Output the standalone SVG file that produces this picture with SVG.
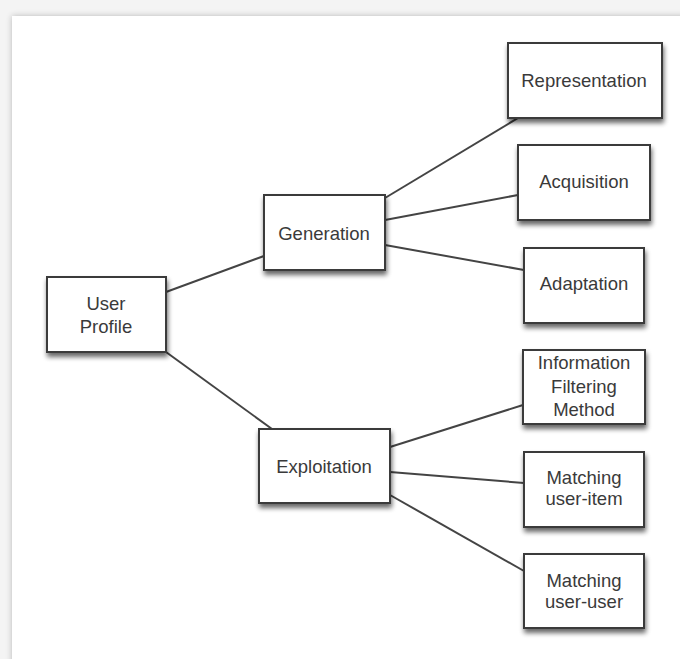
<svg xmlns="http://www.w3.org/2000/svg" width="680" height="659" viewBox="0 0 680 659">
<defs>
<filter id="sh" x="-20%" y="-20%" width="140%" height="150%">
<feGaussianBlur in="SourceAlpha" stdDeviation="2.5"/>
<feOffset dx="1" dy="4" result="b"/>
<feComponentTransfer><feFuncA type="linear" slope="0.6"/></feComponentTransfer>
<feMerge><feMergeNode/><feMergeNode in="SourceGraphic"/></feMerge>
</filter>
<filter id="pg" x="-5%" y="-5%" width="110%" height="110%">
<feGaussianBlur in="SourceAlpha" stdDeviation="3"/>
<feOffset dx="0" dy="0"/>
<feComponentTransfer><feFuncA type="linear" slope="0.25"/></feComponentTransfer>
<feMerge><feMergeNode/><feMergeNode in="SourceGraphic"/></feMerge>
</filter>
</defs>
<style>
.box{fill:#fff;stroke:#3a3a3a;stroke-width:2;filter:url(#sh)}
.lbl{font-family:"Liberation Sans",Arial,sans-serif;font-size:18.5px;fill:#3a3a3a;text-anchor:middle}
.con{stroke:#444;stroke-width:2;fill:none}
</style>
<rect x="0" y="0" width="680" height="659" fill="#f4f4f4"/>
<rect x="12" y="16" width="680" height="660" fill="#fff" filter="url(#pg)"/>
<g id="connectors">
<line class="con" x1="166" y1="292" x2="264" y2="256"/>
<line class="con" x1="166" y1="352" x2="272" y2="429"/>
<line class="con" x1="385" y1="198" x2="518" y2="118"/>
<line class="con" x1="385" y1="220" x2="518" y2="195"/>
<line class="con" x1="385" y1="245" x2="524" y2="270"/>
<line class="con" x1="390" y1="447" x2="523" y2="405"/>
<line class="con" x1="390" y1="472" x2="524" y2="483"/>
<line class="con" x1="390" y1="495" x2="524" y2="571"/>
</g>
<g id="user-profile"><rect class="box" x="47" y="277" width="119" height="75"/><text class="lbl" x="106" y="310">User</text><text class="lbl" x="106" y="333">Profile</text></g>
<g id="generation"><rect class="box" x="264" y="195" width="121" height="75"/><text class="lbl" x="324" y="240">Generation</text></g>
<g id="exploitation"><rect class="box" x="259" y="429" width="131" height="74"/><text class="lbl" x="324" y="473">Exploitation</text></g>
<g id="representation"><rect class="box" x="508" y="43" width="154" height="75"/><text class="lbl" x="584" y="87">Representation</text></g>
<g id="acquisition"><rect class="box" x="518" y="145" width="132" height="75"/><text class="lbl" x="584" y="188">Acquisition</text></g>
<g id="adaptation"><rect class="box" x="524" y="248" width="120" height="75"/><text class="lbl" x="584" y="290">Adaptation</text></g>
<g id="info-filtering"><rect class="box" x="523" y="350" width="122" height="74"/><text class="lbl" x="584" y="369">Information</text><text class="lbl" x="584" y="393">Filtering</text><text class="lbl" x="584" y="416">Method</text></g>
<g id="matching-user-item"><rect class="box" x="524" y="452" width="120" height="75"/><text class="lbl" x="584" y="484">Matching</text><text class="lbl" x="584" y="505">user-item</text></g>
<g id="matching-user-user"><rect class="box" x="524" y="554" width="120" height="74"/><text class="lbl" x="584" y="587">Matching</text><text class="lbl" x="584" y="608">user-user</text></g>
</svg>
